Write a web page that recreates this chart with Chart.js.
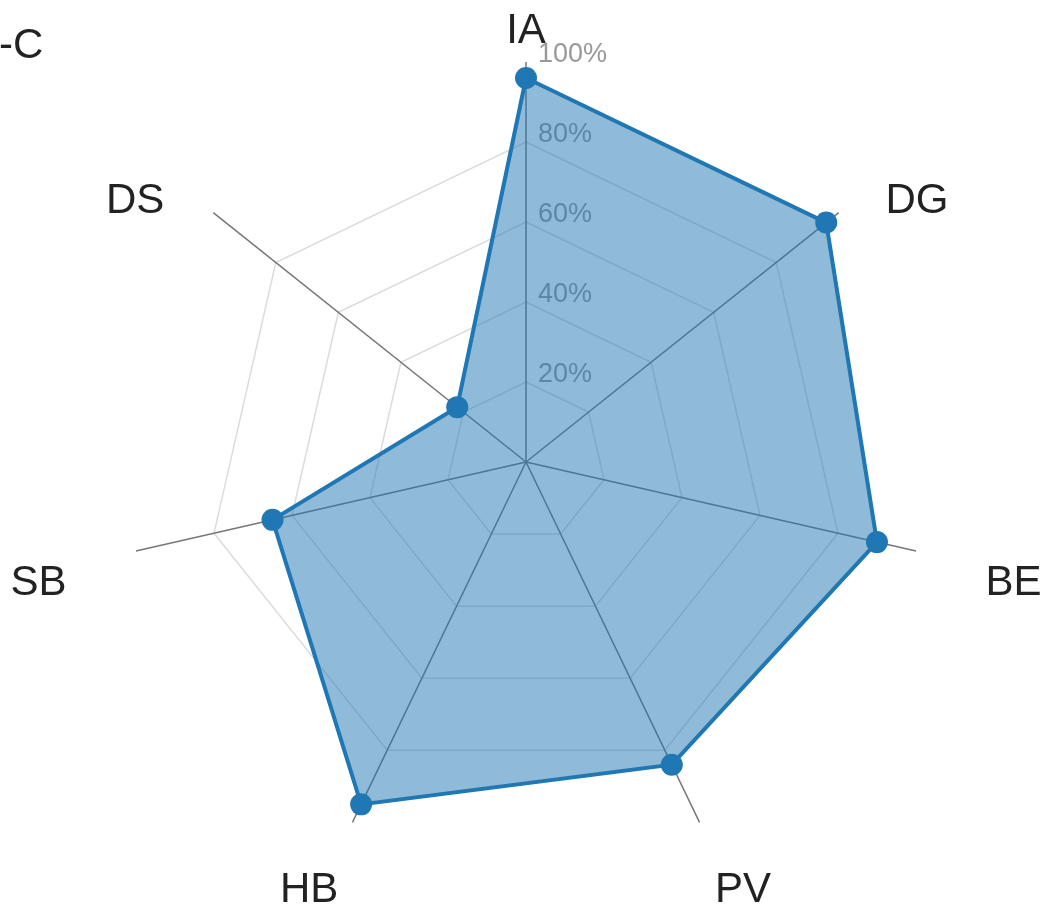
<!DOCTYPE html>
<html>
<head>
<meta charset="utf-8">
<script src="https://cdn.jsdelivr.net/npm/chart.js@4"></script>
<style>
  html, body { margin: 0; padding: 0; background: #fff; }
  #wrap { width: 1046px; height: 911px; }
</style>
</head>
<body>
<div id="wrap"><canvas id="myChart" width="1046" height="911"></canvas></div>
<script>
// datos de la grafica
var categorias = ['IA', 'DG', 'BE', 'PV', 'HB', 'SB', 'DS'];
var valores = [96, 96, 90, 84, 95, 65, 22];
var ticksEscala = [0, 20, 40, 60, 80, 100];
var titulo = '-C';

var azul = '#1f77b4';

// etiquetas del eje radial (debajo del relleno) y de los ejes (encima)
var etiquetasPlugin = {
    id: 'etiquetas',
    beforeDatasetsDraw: function(chart){
        var r = chart.scales.r;
        var ctx = chart.ctx;
        ctx.save();
        ctx.font = '27px "Liberation Sans", Arial, sans-serif';
        ctx.fillStyle = '#999';
        ctx.textAlign = 'left';
        ctx.textBaseline = 'alphabetic';
        r.ticks.forEach(function(t){
            if (t.value === 0) return;
            var d = r.getDistanceFromCenterForValue(t.value);
            ctx.fillText(t.value + '%', r.xCenter + 12, r.yCenter - d);
        });
        ctx.restore();
    },
    afterDraw: function(chart){
        var r = chart.scales.r;
        var ctx = chart.ctx;
        ctx.save();
        ctx.font = '42px "Liberation Sans", Arial, sans-serif';
        ctx.fillStyle = '#222';
        ctx.textAlign = 'center';
        ctx.textBaseline = 'middle';
        chart.data.labels.forEach(function(lab, i){
            var px = r.getPointPosition(i, 500);
            var py = r.getPointPosition(i, 452);
            ctx.fillText(lab, px.x, py.y + 21);
        });
        ctx.textAlign = 'left';
        ctx.textBaseline = 'alphabetic';
        ctx.fillText(titulo, -1, 58);
        ctx.restore();
    }
};

var ctx = document.getElementById('myChart').getContext('2d');
var myChart = new Chart(ctx, {
    type: 'radar',
    data: {
        labels: categorias,
        datasets: [{
            label: 'C',
            data: valores,
            fill: true,
            backgroundColor: 'rgba(31, 119, 180, 0.5)',
            borderColor: azul,
            borderWidth: 4,
            pointBackgroundColor: azul,
            pointBorderColor: azul,
            pointBorderWidth: 0,
            pointRadius: 11,
            pointHoverRadius: 11
        }]
    },
    options: {
        responsive: false,
        animation: false,
        layout: {
            padding: { left: 126, right: 120, top: 62, bottom: 49 }
        },
        plugins: {
            legend: { display: false },
            tooltip: { enabled: false }
        },
        scales: {
            r: {
                min: ticksEscala[0],
                max: ticksEscala[ticksEscala.length - 1],
                afterBuildTicks: function(scale){
                    scale.ticks = ticksEscala.map(function(v){ return { value: v }; });
                },
                ticks: { display: false },
                pointLabels: { display: false },
                angleLines: { color: '#777', lineWidth: 1.5 },
                grid: {
                    color: '#dcdcdc',
                    lineWidth: function(c){
                        return (c.tick && c.tick.value === 100) ? 0 : 1.5;
                    }
                }
            }
        }
    },
    plugins: [etiquetasPlugin]
});
</script>
</body>
</html>
